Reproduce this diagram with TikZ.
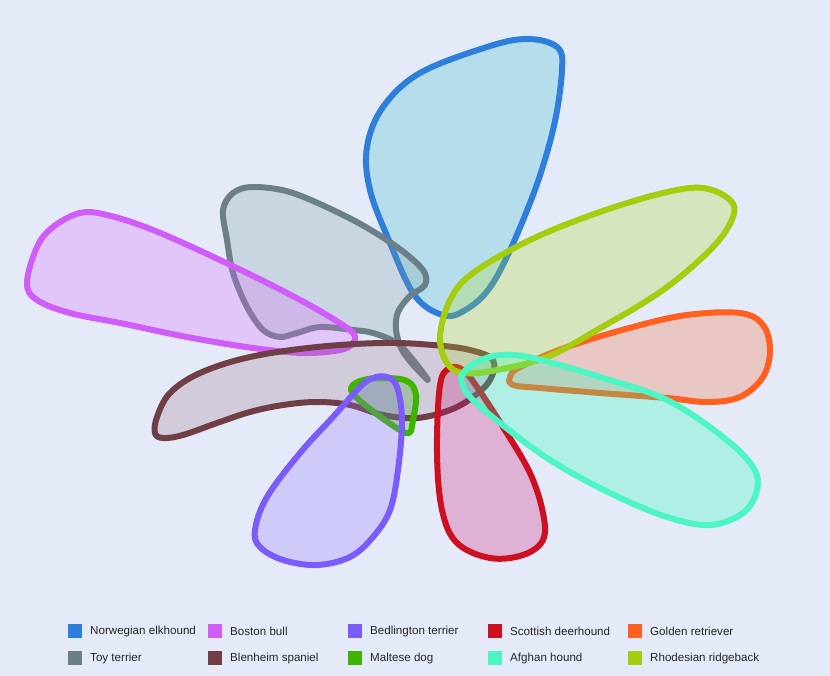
\documentclass[tikz,border=0pt]{standalone}
\usepackage{fontspec}
\setmainfont{Liberation Sans}
\begin{document}
\begin{tikzpicture}[x=1pt,y=-1pt,
  blob/.style={line width=6pt, line join=round, fill opacity=0.25},
  swatch/.style={minimum width=14pt, minimum height=14pt, inner sep=0pt, anchor=west},
  lab/.style={anchor=west, font=\fontsize{11.6}{13}\selectfont, text=black!85, inner sep=0pt}]
\definecolor{bg}{RGB}{228,234,247}
\definecolor{cNor}{RGB}{46,127,219}   \definecolor{fNor}{RGB}{44,186,207}
\definecolor{cToy}{RGB}{107,127,136}  \definecolor{fToy}{RGB}{124,154,159}
\definecolor{cBos}{RGB}{208,92,249}   \definecolor{fBos}{RGB}{220,98,255}
\definecolor{cBle}{RGB}{112,63,70}    \definecolor{fBle}{RGB}{156,114,139}
\definecolor{cBed}{RGB}{123,92,250}   \definecolor{fBed}{RGB}{148,114,255}
\definecolor{cMal}{RGB}{60,180,0}     \definecolor{fMal}{RGB}{40,160,0}
\definecolor{cSco}{RGB}{204,16,32}    \definecolor{fSco}{RGB}{212,10,115}
\definecolor{cAfg}{RGB}{76,245,195}   \definecolor{fAfg}{RGB}{20,255,179}
\definecolor{cGol}{RGB}{255,95,31}    \definecolor{fGol}{RGB}{244,98,51}
\definecolor{cRho}{RGB}{166,204,16}   \definecolor{fRho}{RGB}{180,218,27}
\fill[bg] (0,0) rectangle (830,676);
\useasboundingbox (0,0) rectangle (830,676);

% Norwegian elkhound
\draw[blob, draw=cNor, fill=fNor] plot[smooth cycle, tension=0.6] coordinates {
 (557,47) (527,39) (487,47) (420,73) (383,107) (367,147) (370,190) (390,243)
 (413,293) (437,313) (460,313) (493,283) (530,203) (553,130) (562,70)};
% Toy terrier
\draw[blob, draw=cToy, fill=fToy] plot[smooth cycle, tension=0.55] coordinates {
 (223,210) (233,193) (253,187) (293,193) (353,220) (397,247) (423,270) (425,285)
 (410,296) (398,312) (396,330) (402,350) (415,367) (428,380) (413,360) (397,343)
 (373,333) (353,330) (320,327) (297,333) (280,337) (263,330) (247,307) (233,273) (227,240)};
% Boston bull
\draw[blob, draw=cBos, fill=fBos] plot[smooth cycle, tension=0.6] coordinates {
 (27,283) (37,247) (53,227) (80,213) (107,215) (153,230) (220,260) (287,293)
 (330,317) (353,333) (353,343) (340,350) (303,353) (253,348) (187,337) (120,323)
 (70,313) (37,300)};
% Blenheim spaniel
\draw[blob, draw=cBle, fill=fBle] plot[smooth cycle, tension=0.6] coordinates {
 (155,433) (157,417) (170,393) (200,373) (250,357) (317,347) (383,343) (433,345)
 (470,350) (493,360) (490,380) (473,397) (450,410) (417,418) (383,415) (350,405)
 (317,402) (283,405) (250,412) (217,423) (183,435) (163,438)};
% Maltese dog
\draw[blob, draw=cMal, fill=fMal] plot[smooth cycle, tension=0.6] coordinates {
 (351,390) (360,381) (382,378) (407,381) (416,395) (413,420) (409,433) (395,427) (365,405)};
% Bedlington terrier
\draw[blob, draw=cBed, fill=fBed] plot[smooth cycle, tension=0.6] coordinates {
 (387,377) (397,387) (402,420) (398,470) (390,510) (373,537) (350,557) (317,565)
 (283,560) (260,547) (255,530) (267,497) (300,453) (333,417) (360,387) (373,378)};
% Scottish deerhound
\draw[blob, draw=cSco, fill=fSco] plot[smooth cycle, tension=0.6] coordinates {
 (450,368) (440,385) (437,453) (442,510) (457,543) (490,558) (523,555) (543,540)
 (543,513) (530,473) (503,427) (477,387) (463,370)};
% Golden retriever
\draw[blob, draw=cGol, fill=fGol] plot[smooth cycle, tension=0.6] coordinates {
 (510,377) (520,367) (567,347) (633,327) (687,315) (740,313) (763,325) (770,350)
 (763,377) (740,397) (707,402) (667,398) (600,393) (540,388) (513,385)};
% Rhodesian ridgeback
\draw[blob, draw=cRho, fill=fRho] plot[smooth cycle, tension=0.6] coordinates {
 (440,337) (450,300) (473,273) (530,240) (597,213) (663,193) (703,188) (730,200)
 (733,217) (713,247) (663,290) (597,330) (547,357) (497,370) (463,373) (447,363)};
% Afghan hound
\draw[blob, draw=cAfg, fill=fAfg] plot[smooth cycle, tension=0.6] coordinates {
 (463,373) (477,362) (500,355) (533,358) (600,377) (667,400) (723,437) (753,467)
 (757,490) (743,513) (710,525) (667,517) (610,493) (550,460) (500,423) (470,397) (462,383)};

% Legend
\node[swatch, fill=cNor] (s1) at (68,631) {};  \node[lab] (l1) at (90,631) {Norwegian elkhound};
\node[swatch, fill=cBos] (s2) at (208,631) {}; \node[lab] (l2) at (230,631) {Boston bull};
\node[swatch, fill=cBed] (s3) at (348,631) {}; \node[lab] (l3) at (370,631) {Bedlington terrier};
\node[swatch, fill=cSco] (s4) at (488,631) {}; \node[lab] (l4) at (510,631) {Scottish deerhound};
\node[swatch, fill=cGol] (s5) at (628,631) {}; \node[lab] (l5) at (650,631) {Golden retriever};
\node[swatch, fill=cToy] (s6) at (68,658) {};  \node[lab] (l6) at (90,658) {Toy terrier};
\node[swatch, fill=cBle] (s7) at (208,658) {}; \node[lab] (l7) at (230,658) {Blenheim spaniel};
\node[swatch, fill=cMal] (s8) at (348,658) {}; \node[lab] (l8) at (370,658) {Maltese dog};
\node[swatch, fill=cAfg] (s9) at (488,658) {}; \node[lab] (l9) at (510,658) {Afghan hound};
\node[swatch, fill=cRho] (s10) at (628,658) {}; \node[lab] (l10) at (650,658) {Rhodesian ridgeback};
\end{tikzpicture}
\end{document}
